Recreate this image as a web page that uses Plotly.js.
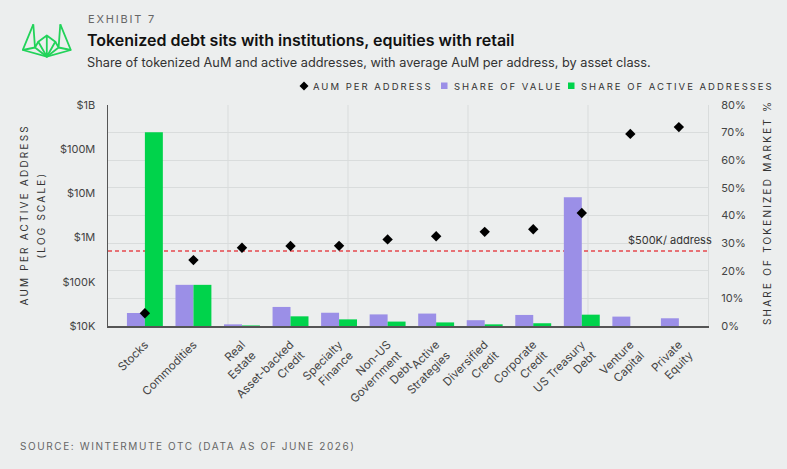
<!DOCTYPE html>
<html>
<head>
<meta charset="utf-8">
<script src="https://cdn.plot.ly/plotly-3.0.1.min.js"></script>
<style>
  html, body { margin: 0; padding: 0; background: #eceeee; }
</style>
</head>
<body>
<div id="chart" style="width:787px;height:469px;"></div>
<script>
// asset classes, as they appear on the x axis
const categories = ['Stocks', 'Commodities', 'Real<br>Estate', 'Asset-backed<br>Credit', 'Specialty<br>Finance',
    'Non-US<br>Government<br>Debt', 'Active<br>Strategies', 'Diversified<br>Credit', 'Corporate<br>Credit',
    'US Treasury<br>Debt', 'Venture<br>Capital', 'Private<br>Equity'];

// share of tokenized market, % (right axis)
const shareOfValue = [4.7, 14.9, 0.6, 6.9, 4.8, 4.2, 4.5, 2.1, 4.0, 46.6, 3.4, 2.8];
const shareOfAddresses = [70.1, 14.9, 0.2, 3.5, 2.4, 1.6, 1.3, 0.6, 1.0, 4.1, null, null];

// average AuM per active address, USD (left log axis)
const aumPerAddress = [19500, 310000, 590000, 645000, 650000, 910000, 1070000, 1350000, 1550000, 3600000, 222000000, 316000000];

const aumTickVals = [1e4, 1e5, 1e6, 1e7, 1e8, 1e9];
const aumTickText = ['$10K', '$100K', '$1M', '$10M', '$100M', '$1B'];
const shareTickVals = [0, 10, 20, 30, 40, 50, 60, 70, 80];
const shareTickText = shareTickVals.map(v => v + '%');

const threshold = 500000;

const PURPLE = '#9b8fe7';
const GREEN = '#00d34b';
const GRID = '#d9dcdc';

// plot area in page pixels, used to place header / legend / footer
const M = { l: 108, r: 79, t: 105, b: 143 };
const W = 787, H = 469;
const px = x => (x - M.l) / (W - M.l - M.r);
const py = y => (H - M.b - y) / (H - M.t - M.b);

const spaced = (s, ls) => '<span style="letter-spacing:' + ls + 'px">' + s + '</span>';

const logo = 'data:image/svg+xml;utf8,' + encodeURIComponent(
    '<svg xmlns="http://www.w3.org/2000/svg" viewBox="0 0 50 35" width="50" height="35">' +
    '<g fill="none" stroke="#22d35a" stroke-width="1.8" stroke-linejoin="round">' +
    '<path d="M11.3,1.3 L0.8,27 L24.8,33.7 L48.8,27 L38.3,1.3"/>' +
    '<path d="M11.3,1.3 L13,24.5 L24.8,33.7 M0.8,27 L13,24.5 L16.3,18.7"/>' +
    '<path d="M38.3,1.3 L36.6,24.5 L24.8,33.7 M48.8,27 L36.6,24.5 L33.3,18.7"/>' +
    '<path d="M24.8,12.5 L16.3,18.7 L24.8,33.7 L33.3,18.7 Z M24.8,12.5 L24.8,33.7"/>' +
    '</g></svg>');

const traces = [{
    type: 'bar',
    name: 'SHARE OF VALUE',
    x: categories,
    y: shareOfValue,
    yaxis: 'y',
    marker: { color: PURPLE },
    hoverinfo: 'y'
}, {
    type: 'bar',
    name: 'SHARE OF ACTIVE ADDRESSES',
    x: categories,
    y: shareOfAddresses,
    yaxis: 'y',
    marker: { color: GREEN },
    hoverinfo: 'y'
}, {
    type: 'scatter',
    mode: 'markers',
    name: 'AUM PER ADDRESS',
    x: categories,
    y: aumPerAddress,
    yaxis: 'y2',
    marker: { symbol: 'diamond', size: 8, color: '#000' },
    hoverinfo: 'y'
}];

const sideTitle = { family: 'Inter, sans-serif', size: 10, color: '#333' };

const layout = {
    width: W,
    height: H,
    margin: M,
    paper_bgcolor: '#eceeee',
    plot_bgcolor: '#eceeee',
    font: { family: 'Inter, sans-serif', size: 11, color: '#333' },
    showlegend: false,
    barmode: 'group',
    bargap: 0.26,
    bargroupgap: 0,
    xaxis: {
        type: 'category',
        range: [-0.76, 11.6],
        tickangle: -45,
        showgrid: false,
        showline: true,
        linecolor: '#555',
        linewidth: 1.5,
        ticks: 'outside',
        ticklen: 6,
        tickcolor: 'rgba(0,0,0,0)',
        tickfont: { size: 11.5, color: '#444' },
        fixedrange: true
    },
    // right axis: share of market (main, so its grid sits under everything)
    yaxis: {
        side: 'right',
        range: [0, 80],
        tickvals: shareTickVals,
        ticktext: shareTickText,
        showgrid: true,
        gridcolor: GRID,
        zeroline: false,
        showline: true,
        linecolor: GRID,
        ticks: 'outside',
        ticklen: 10,
        tickcolor: 'rgba(0,0,0,0)',
        tickfont: { size: 11, color: '#444' },
        fixedrange: true
    },
    // left axis: AuM per address, log
    yaxis2: {
        type: 'log',
        overlaying: 'y',
        side: 'left',
        range: [4, 9],
        tickvals: aumTickVals,
        ticktext: aumTickText,
        showgrid: false,
        zeroline: false,
        showline: true,
        linecolor: '#555',
        linewidth: 1.5,
        ticks: 'outside',
        ticklen: 9,
        tickcolor: 'rgba(0,0,0,0)',
        tickfont: { size: 11, color: '#444' },
        fixedrange: true
    },
    shapes: [0.2, 0.4, 0.6, 0.8].map(v => ({
        type: 'line', xref: 'paper', yref: 'paper', x0: v, x1: v, y0: 0, y1: 1,
        line: { color: GRID, width: 1 }, layer: 'below'
    })).concat([{
        type: 'line', xref: 'paper', yref: 'y2', x0: 0, x1: 1, y0: threshold, y1: threshold,
        line: { color: '#e5484d', width: 1.5, dash: '4px,3px' }, layer: 'between'
    },
    // legend keys
    {
        type: 'path', xref: 'paper', yref: 'paper', fillcolor: '#000', line: { width: 0 },
        path: 'M' + px(304) + ',' + py(81.5) + ' L' + px(308.5) + ',' + py(86) + ' L' + px(304) + ',' + py(90.5) +
            ' L' + px(299.5) + ',' + py(86) + ' Z'
    }, {
        type: 'rect', xref: 'paper', yref: 'paper', fillcolor: PURPLE, line: { width: 0 },
        x0: px(441), x1: px(447.5), y0: py(89), y1: py(82.5)
    }, {
        type: 'rect', xref: 'paper', yref: 'paper', fillcolor: GREEN, line: { width: 0 },
        x0: px(568), x1: px(574.5), y0: py(89), y1: py(82.5)
    }]),
    annotations: [
        { xref: 'paper', yref: 'paper', x: px(86), y: py(19), xanchor: 'left', yanchor: 'middle', showarrow: false,
          text: spaced('EXHIBIT 7', 1.8), font: { size: 11, color: '#666' } },
        { xref: 'paper', yref: 'paper', x: px(85), y: py(40), xanchor: 'left', yanchor: 'middle', showarrow: false,
          text: 'Tokenized debt sits with institutions, equities with retail',
          font: { size: 16, color: '#111', weight: 600 } },
        { xref: 'paper', yref: 'paper', x: px(85), y: py(62), xanchor: 'left', yanchor: 'middle', showarrow: false,
          text: 'Share of tokenized AuM and active addresses, with average AuM per address, by asset class.',
          font: { size: 12.75, color: '#333' } },
        { xref: 'paper', yref: 'paper', x: px(311), y: py(86), xanchor: 'left', yanchor: 'middle', showarrow: false,
          text: spaced('AUM PER ADDRESS', 2), font: { size: 9.5, color: '#333' } },
        { xref: 'paper', yref: 'paper', x: px(452), y: py(86), xanchor: 'left', yanchor: 'middle', showarrow: false,
          text: spaced('SHARE OF VALUE', 2), font: { size: 9.5, color: '#333' } },
        { xref: 'paper', yref: 'paper', x: px(579), y: py(86), xanchor: 'left', yanchor: 'middle', showarrow: false,
          text: spaced('SHARE OF ACTIVE ADDRESSES', 2), font: { size: 9.5, color: '#333' } },
        { xref: 'paper', yref: 'paper', x: px(23), y: 0.5, xanchor: 'center', yanchor: 'middle', showarrow: false,
          textangle: -90, text: spaced('AUM PER ACTIVE ADDRESS', 2.2), font: sideTitle },
        { xref: 'paper', yref: 'paper', x: px(40), y: 0.5, xanchor: 'center', yanchor: 'middle', showarrow: false,
          textangle: -90, text: spaced('(LOG SCALE)', 2.2), font: sideTitle },
        { xref: 'paper', yref: 'paper', x: px(767), y: py(213), xanchor: 'center', yanchor: 'middle', showarrow: false,
          textangle: -90, text: spaced('SHARE OF TOKENIZED MARKET %', 2.2), font: sideTitle },
        { xref: 'paper', yref: 'y2', x: px(714), y: Math.log10(threshold), xanchor: 'right', yanchor: 'middle',
          yshift: 11, showarrow: false, text: '$500K/ address', font: { size: 11, color: '#333' } },
        { xref: 'paper', yref: 'paper', x: px(18), y: py(446), xanchor: 'left', yanchor: 'middle', showarrow: false,
          text: spaced('SOURCE: WINTERMUTE OTC (DATA AS OF JUNE 2026)', 1.6), font: { size: 10, color: '#666' } }
    ],
    images: [{
        source: logo, xref: 'paper', yref: 'paper', x: px(22), y: py(23), sizex: px(72) - px(22), sizey: py(23) - py(58),
        xanchor: 'left', yanchor: 'top', sizing: 'stretch', layer: 'above'
    }]
};

Plotly.newPlot('chart', traces, layout, { displayModeBar: false, staticPlot: true });
</script>
</body>
</html>
